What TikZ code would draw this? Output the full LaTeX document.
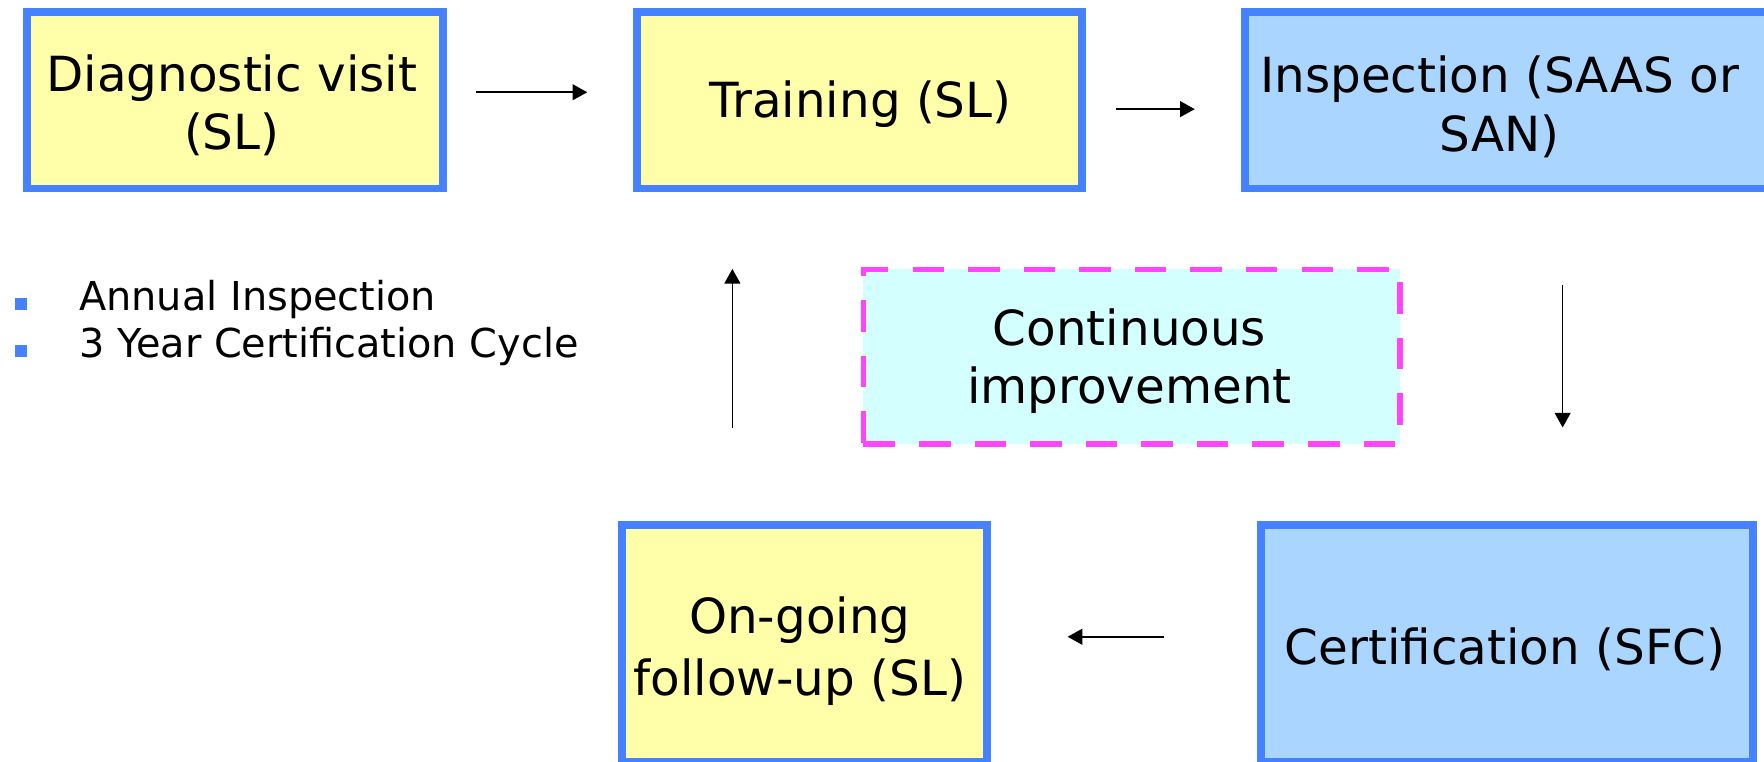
\documentclass[tikz,border=0pt]{standalone}
\usepackage{fontspec}
\setmainfont{DejaVu Sans}
\usetikzlibrary{arrows.meta}
\definecolor{bordblue}{RGB}{70,130,255}
\definecolor{fillyellow}{RGB}{255,255,170}
\definecolor{fillblue}{RGB}{170,213,255}
\definecolor{fillcyan}{RGB}{212,255,255}
\definecolor{dashmag}{RGB}{255,68,255}
\tikzset{
  stagebox/.style={draw=bordblue, line width=3.5pt, inner sep=0pt},
  yellowbox/.style={stagebox, fill=fillyellow},
  bluebox/.style={stagebox, fill=fillblue},
  improvebox/.style={draw=dashmag, fill=fillcyan, line width=2.5pt,
    dash pattern=on 14pt off 10.7pt, inner sep=0pt},
  boxtext/.style={align=center, inner sep=0pt, font=\fontsize{21.5pt}{26pt}\selectfont},
  flow/.style={line width=0.75pt, -{Triangle[length=6.5pt,width=7pt]}},
  bullettext/.style={anchor=base west, inner sep=0pt, font=\fontsize{17.7pt}{20.5pt}\selectfont},
  bulletsq/.style={fill=bordblue, draw=none, minimum size=5.5pt, inner sep=0pt, anchor=south west}
}
\begin{document}
\begin{tikzpicture}[x=0.5pt, y=-0.5pt]
\useasboundingbox (0,0) rectangle (1568,677.33);
\clip (0,0) rectangle (1568,677.33);

% top row
\node[yellowbox, minimum width=184.65pt, minimum height=78.3pt] (diag) at (208.85,89.2) {};
\node[boxtext] (diagtext) at (206,93.5) {Diagnostic visit\\(SL)};
\node[yellowbox, minimum width=197.5pt, minimum height=78.3pt] (train) at (764,89.2) {};
\node[boxtext] (traintext) at (765,92.5) {Training (SL)};
\node[bluebox, minimum width=246.75pt, minimum height=78.3pt] (insp) at (1353.25,89.2) {};
\node[boxtext] (insptext) at (1333,95) {Inspection (SAAS or\\SAN)};

% middle
\node[improvebox, minimum width=238.5pt, minimum height=77.5pt] (cont) at (1006,317) {};
\node[boxtext] (conttext) at (1004,321) {Continuous\\improvement};

% bottom row
\node[yellowbox, minimum width=162.5pt, minimum height=105.25pt] (follow) at (715,571.75) {};
\node[boxtext, font=\fontsize{21.5pt}{27.5pt}\selectfont] (followtext) at (711,579)
  {On-going\\follow-up (SL)};
\node[bluebox, minimum width=219pt, minimum height=105.25pt] (cert) at (1339.5,571.75) {};
\node[boxtext] (certtext) at (1338,577.5) {Certification (SFC)};

% bullets
\node[bulletsq] (bul1) at (13,276) {};
\node[bulletsq] (bul2) at (13,318) {};
\node[bullettext] (item1) at (70,276) {Annual Inspection};
\node[bullettext] (item2) at (70,318) {3 Year Certification Cycle};

% arrow end points
\coordinate (a1s) at (423,82);   \coordinate (a1e) at (522,82);
\coordinate (a2s) at (992,97);   \coordinate (a2e) at (1062,97);
\coordinate (a3s) at (1389,253); \coordinate (a3e) at (1389,380);
\coordinate (a4s) at (1035,566); \coordinate (a4e) at (949,566);
\coordinate (a5s) at (651,380);  \coordinate (a5e) at (651,239);

\draw[flow] (a1s) -- (a1e);
\draw[flow] (a2s) -- (a2e);
\draw[flow] (a3s) -- (a3e);
\draw[flow] (a4s) -- (a4e);
\draw[flow] (a5s) -- (a5e);
\end{tikzpicture}
\end{document}
